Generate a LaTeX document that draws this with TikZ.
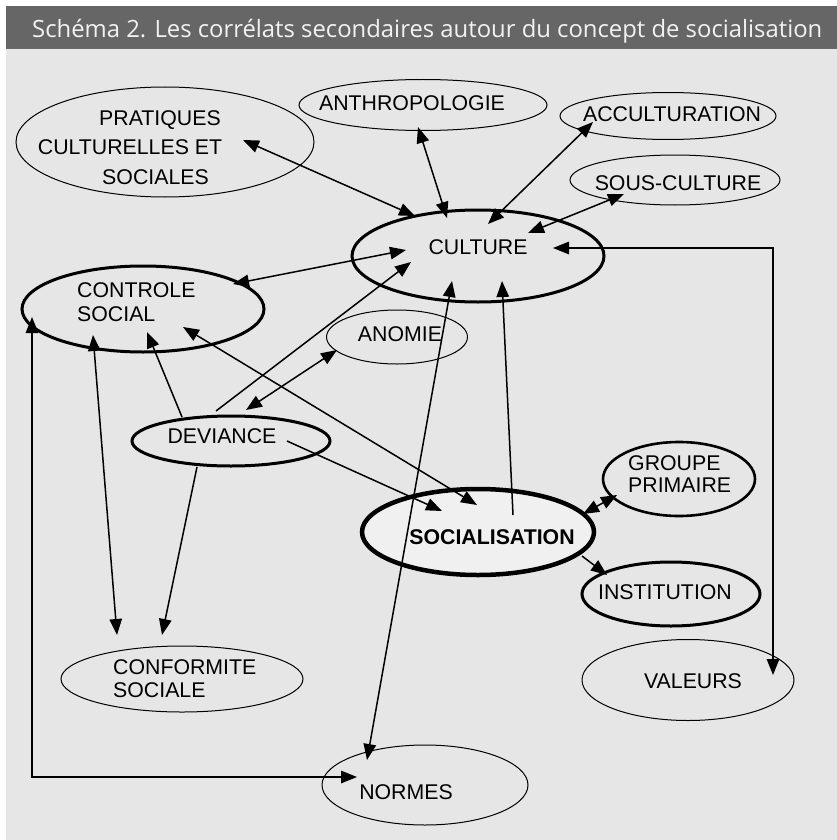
\documentclass[tikz,border=0pt]{standalone}
\usepackage{graphicx}
\usepackage{fontspec}
\setmainfont{Liberation Sans}
\newfontfamily\titlefont{Open Sans}
\usetikzlibrary{arrows.meta,shapes.geometric}
\definecolor{bg}{HTML}{E6E6E6}
\definecolor{barc}{HTML}{666666}
\definecolor{socfill}{HTML}{F0F0F0}
\begin{document}
\begin{tikzpicture}[x=1pt,y=-1pt,
  el/.style={ellipse, draw, inner sep=0pt, line width=1pt},
  thk/.style={line width=3pt},
  lbl/.style={inner sep=0pt, font=\fontsize{21.3}{25}\selectfont, anchor=base},
  lbll/.style={lbl, anchor=base west},
  tip/.tip={Triangle[length=16pt,width=12.5pt]},
  con/.style={line width=1.5pt, -tip},
  bicon/.style={line width=1.5pt, tip-tip}]
% background
\useasboundingbox (0,0) rectangle (837,840);
\fill[white] (0,0) rectangle (837,840);
\fill[bg] (6,49) rectangle (837,840);
\fill[barc] (6,6) rectangle (837,49);
\node[anchor=base west, inner sep=0pt, text=white!95!black] (title) at (32,38)
  {\resizebox{790pt}{!}{\titlefont Schéma 2. Les corrélats secondaires autour du concept de socialisation}};
% ellipses
\node[el, minimum width=298pt, minimum height=110pt] (prat) at (165,142) {};
\node[el, minimum width=248pt, minimum height=51pt] (anth) at (423,105) {};
\node[el, minimum width=216pt, minimum height=47pt] (accu) at (668,116) {};
\node[el, minimum width=210pt, minimum height=50pt] (sous) at (675,180) {};
\node[el, thk, minimum width=252pt, minimum height=92pt] (cult) at (478,256) {};
\node[el, thk, minimum width=242pt, minimum height=86pt] (ctrl) at (143,309) {};
\node[el, minimum width=141pt, minimum height=54pt] (anom) at (397,337) {};
\node[el, thk, minimum width=198pt, minimum height=50pt] (dev) at (231,441) {};
\node[el, line width=4.5pt, fill=socfill, minimum width=232pt, minimum height=86pt] (soc) at (478,532) {};
\node[el, line width=2.6pt, minimum width=152pt, minimum height=74pt] (grp) at (679,479) {};
\node[el, thk, minimum width=178pt, minimum height=64pt] (inst) at (671,594) {};
\node[el, minimum width=242pt, minimum height=66pt] (conf) at (182,679) {};
\node[el, minimum width=212pt, minimum height=81pt] (val) at (688,680) {};
\node[el, minimum width=206pt, minimum height=80pt] (norm) at (425,785) {};
% connectors
\draw[bicon] ([shift={(78,-2)}]prat.center) -- ([shift={(-63,-40)}]cult.center);
\draw[bicon] ([shift={(-5,22)}]anth.center) -- ([shift={(-31,-38)}]cult.center);
\draw[bicon] ([shift={(-75,6)}]accu.center) -- ([shift={(10,-32)}]cult.center);
\draw[bicon] ([shift={(-51,14)}]sous.center) -- ([shift={(50,-23)}]cult.center);
\draw[bicon] ([shift={(85,-5)}]val.center) |- ([shift={(75,-8)}]cult.center);
\draw[bicon] ([shift={(-72,-6)}]cult.center) -- ([shift={(90,-25)}]ctrl.center);
\draw[con] ([shift={(-15,-30)}]dev.center) -- ([shift={(-67,6)}]cult.center);
\draw[con] ([shift={(-49,-24)}]dev.center) -- ([shift={(4,23)}]ctrl.center);
\draw[bicon] ([shift={(40,18)}]ctrl.center) -- ([shift={(-1,-27)}]soc.center);
\draw[bicon] ([shift={(-60,13)}]anom.center) -- ([shift={(15,-31)}]dev.center);
\draw[con] ([shift={(56,0)}]dev.center) -- ([shift={(-36,-21)}]soc.center);
\draw[con] ([shift={(35,-17)}]soc.center) -- ([shift={(24,25)}]cult.center);
\draw[bicon] ([shift={(-26,25)}]cult.center) -- ([shift={(-58,-25)}]norm.center);
\draw[con] ([shift={(-34,26)}]dev.center) -- ([shift={(-20,-44)}]conf.center);
\draw[bicon] ([shift={(-50,26)}]ctrl.center) -- ([shift={(-65,-44)}]conf.center);
\draw[bicon] ([shift={(-111,8)}]ctrl.center) |- ([shift={(-68,-8)}]norm.center);
\draw[bicon] ([shift={(105,-18)}]soc.center) -- ([shift={(-62,16)}]grp.center);
\draw[con] ([shift={(104,24)}]soc.center) -- ([shift={(-64,-19)}]inst.center);
% labels
\node[lbl] (t-prat1) at (160,125.5) {PRATIQUES};
\node[lbl] (t-prat2) at (130,154.5) {CULTURELLES ET};
\node[lbl] (t-prat3) at (155.5,184.5) {SOCIALES};
\node[lbl] (t-anth) at (412,110.5) {ANTHROPOLOGIE};
\node[lbl] (t-accu) at (672,121.5) {ACCULTURATION};
\node[lbl] (t-sous) at (678,190.5) {SOUS-CULTURE};
\node[lbl] (t-cult) at (478,254.5) {CULTURE};
\node[lbll] (t-ctrl1) at (77,297.5) {CONTROLE};
\node[lbll] (t-ctrl2) at (77,321.5) {SOCIAL};
\node[lbl] (t-anom) at (400,341.5) {ANOMIE};
\node[lbl] (t-dev) at (222,443.5) {DEVIANCE};
\node[lbl, font=\fontsize{21.3}{25}\selectfont\bfseries] (t-soc) at (492,544.5) {SOCIALISATION};
\node[lbll] (t-grp1) at (628,470.5) {GROUPE};
\node[lbll] (t-grp2) at (628,492.5) {PRIMAIRE};
\node[lbl] (t-inst) at (665,599.5) {INSTITUTION};
\node[lbll] (t-conf1) at (113,674.5) {CONFORMITE};
\node[lbll] (t-conf2) at (113,697.5) {SOCIALE};
\node[lbl] (t-val) at (693,688.5) {VALEURS};
\node[lbl] (t-norm) at (406,799.5) {NORMES};
\end{tikzpicture}
\end{document}
